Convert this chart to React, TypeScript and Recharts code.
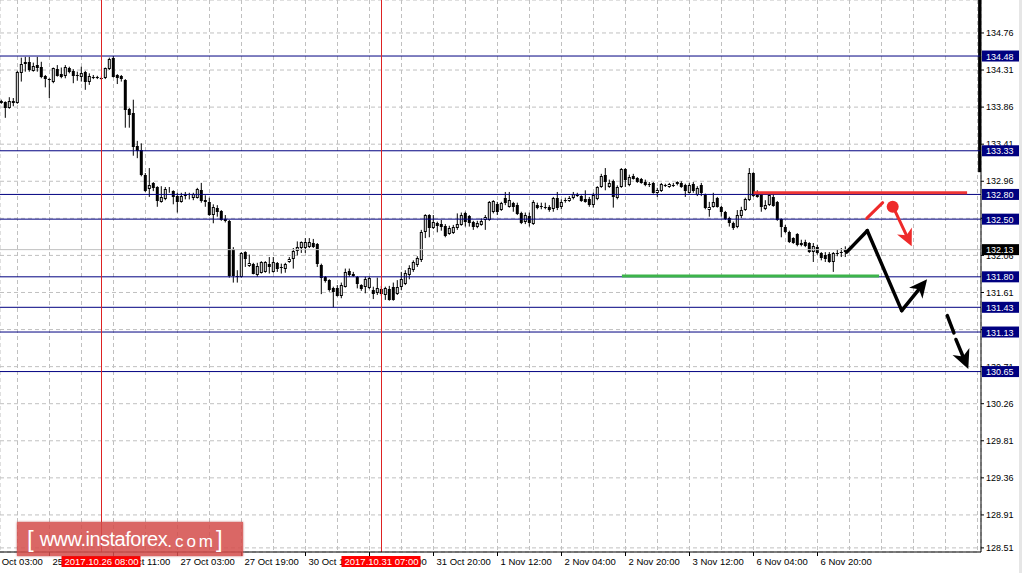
import {
  ComposedChart, Bar, XAxis, YAxis, CartesianGrid,
  ReferenceLine, ReferenceArea, ReferenceDot,
} from 'recharts'

const FONT = '"Liberation Sans", Arial, sans-serif'

// H1 candles, [open, high, low, close]
const CANDLES: [number, number, number, number][] = [
  [133.93, 133.95, 133.90, 133.91], [133.92, 133.93, 133.73, 133.85], [133.85, 133.98, 133.84, 133.93], [133.93, 133.97, 133.87, 133.91],
  [133.91, 134.30, 133.90, 134.29], [134.27, 134.46, 134.17, 134.38], [134.41, 134.47, 134.29, 134.38], [134.41, 134.47, 134.29, 134.31],
  [134.30, 134.40, 134.29, 134.36], [134.37, 134.47, 134.29, 134.33], [134.35, 134.41, 134.21, 134.23], [134.24, 134.25, 134.10, 134.20],
  [134.20, 134.21, 133.97, 134.19], [134.17, 134.34, 134.15, 134.33], [134.32, 134.37, 134.23, 134.24], [134.26, 134.34, 134.21, 134.23],
  [134.24, 134.37, 134.21, 134.35], [134.33, 134.35, 134.27, 134.29], [134.30, 134.32, 134.15, 134.24], [134.25, 134.29, 134.18, 134.24],
  [134.23, 134.35, 134.17, 134.27], [134.29, 134.30, 134.07, 134.17], [134.17, 134.27, 134.13, 134.24], [134.23, 134.25, 134.20, 134.22],
  [134.23, 134.24, 134.20, 134.21], [134.21, 134.23, 134.19, 134.20], [134.21, 134.34, 134.20, 134.33], [134.32, 134.46, 134.31, 134.44],
  [134.46, 134.48, 134.22, 134.23], [134.25, 134.26, 134.14, 134.21], [134.24, 134.25, 134.17, 134.20], [134.19, 134.20, 133.61, 133.83],
  [133.84, 133.85, 133.61, 133.76], [133.79, 133.95, 133.27, 133.38], [133.39, 133.45, 133.24, 133.33], [133.34, 133.42, 133.02, 133.04],
  [133.04, 133.06, 132.83, 132.84], [132.87, 133.12, 132.77, 132.91], [132.94, 132.95, 132.84, 132.88], [132.89, 132.90, 132.65, 132.72],
  [132.71, 132.90, 132.70, 132.77], [132.74, 132.89, 132.73, 132.87], [132.85, 132.89, 132.82, 132.86], [132.84, 132.85, 132.68, 132.77],
  [132.78, 132.82, 132.58, 132.71], [132.71, 132.82, 132.70, 132.78], [132.79, 132.83, 132.74, 132.78], [132.79, 132.82, 132.74, 132.80],
  [132.76, 132.82, 132.73, 132.81], [132.76, 132.88, 132.75, 132.87], [132.85, 132.94, 132.70, 132.72], [132.73, 132.79, 132.65, 132.71],
  [132.71, 132.76, 132.54, 132.55], [132.55, 132.68, 132.45, 132.65], [132.64, 132.67, 132.53, 132.59], [132.60, 132.61, 132.48, 132.49],
  [132.50, 132.55, 132.46, 132.48], [132.48, 132.49, 131.79, 131.81], [132.14, 132.16, 131.73, 131.81], [131.81, 131.88, 131.73, 131.80],
  [131.80, 132.10, 131.79, 132.09], [132.10, 132.11, 131.92, 132.02], [131.93, 132.07, 131.92, 131.97], [131.96, 131.97, 131.83, 131.84],
  [131.82, 131.97, 131.80, 131.93], [131.85, 131.99, 131.84, 131.98], [131.86, 131.99, 131.85, 131.98], [131.96, 132.04, 131.84, 131.92],
  [131.86, 132.04, 131.85, 131.98], [131.97, 131.98, 131.86, 131.89], [131.92, 131.96, 131.84, 131.91], [131.90, 131.97, 131.85, 131.96],
  [131.98, 132.04, 131.97, 132.02], [132.02, 132.15, 131.90, 132.11], [132.11, 132.23, 132.06, 132.16], [132.15, 132.23, 132.09, 132.22],
  [132.15, 132.27, 132.09, 132.22], [132.16, 132.27, 132.15, 132.22], [132.21, 132.26, 132.15, 132.16], [132.20, 132.21, 131.92, 131.96],
  [131.94, 131.96, 131.59, 131.79], [131.80, 131.81, 131.73, 131.75], [131.76, 131.77, 131.62, 131.64], [131.66, 131.68, 131.43, 131.62],
  [131.66, 131.70, 131.56, 131.57], [131.57, 131.73, 131.54, 131.70], [131.68, 131.90, 131.67, 131.86], [131.87, 131.90, 131.80, 131.82],
  [131.83, 131.86, 131.80, 131.81], [131.80, 131.81, 131.66, 131.71], [131.70, 131.71, 131.63, 131.65], [131.68, 131.80, 131.60, 131.77],
  [131.66, 131.80, 131.65, 131.79], [131.64, 131.68, 131.53, 131.59], [131.60, 131.79, 131.58, 131.66], [131.65, 131.69, 131.57, 131.59],
  [131.58, 131.68, 131.52, 131.66], [131.65, 131.69, 131.51, 131.52], [131.68, 131.73, 131.51, 131.52], [131.59, 131.76, 131.58, 131.68],
  [131.68, 131.86, 131.64, 131.77], [131.71, 131.88, 131.70, 131.85], [131.82, 131.94, 131.77, 131.91], [131.88, 132.00, 131.86, 131.98],
  [131.94, 132.05, 131.92, 132.03], [132.00, 132.37, 131.98, 132.34], [132.34, 132.56, 132.27, 132.55], [132.55, 132.56, 132.28, 132.39],
  [132.39, 132.55, 132.38, 132.47], [132.45, 132.47, 132.34, 132.42], [132.44, 132.49, 132.36, 132.40], [132.42, 132.44, 132.28, 132.30],
  [132.32, 132.42, 132.31, 132.39], [132.33, 132.43, 132.32, 132.41], [132.39, 132.57, 132.37, 132.44], [132.43, 132.58, 132.42, 132.55],
  [132.58, 132.59, 132.41, 132.47], [132.54, 132.55, 132.41, 132.45], [132.47, 132.48, 132.37, 132.41], [132.41, 132.48, 132.39, 132.45],
  [132.43, 132.51, 132.42, 132.48], [132.49, 132.55, 132.37, 132.53], [132.49, 132.72, 132.48, 132.71], [132.59, 132.73, 132.57, 132.72],
  [132.68, 132.71, 132.55, 132.59], [132.61, 132.71, 132.60, 132.70], [132.76, 132.83, 132.67, 132.70], [132.65, 132.83, 132.64, 132.73],
  [132.70, 132.71, 132.59, 132.65], [132.67, 132.70, 132.55, 132.56], [132.58, 132.59, 132.44, 132.45], [132.47, 132.58, 132.44, 132.55],
  [132.54, 132.58, 132.41, 132.45], [132.44, 132.73, 132.43, 132.71], [132.67, 132.70, 132.62, 132.64], [132.66, 132.70, 132.62, 132.65],
  [132.65, 132.70, 132.62, 132.64], [132.65, 132.67, 132.59, 132.61], [132.62, 132.77, 132.59, 132.76], [132.76, 132.83, 132.61, 132.64],
  [132.65, 132.74, 132.62, 132.71], [132.73, 132.76, 132.70, 132.72], [132.72, 132.78, 132.71, 132.76], [132.76, 132.83, 132.74, 132.81],
  [132.79, 132.82, 132.77, 132.78], [132.78, 132.79, 132.71, 132.72], [132.74, 132.85, 132.70, 132.71], [132.74, 132.77, 132.65, 132.67],
  [132.67, 132.82, 132.64, 132.79], [132.74, 132.90, 132.73, 132.89], [132.89, 133.05, 132.88, 133.02], [133.04, 133.12, 132.85, 132.95],
  [132.89, 132.98, 132.88, 132.94], [132.96, 132.98, 132.64, 132.77], [132.76, 132.91, 132.74, 132.89], [132.89, 133.12, 132.88, 133.11],
  [133.11, 133.12, 132.89, 132.98], [132.92, 133.04, 132.90, 133.01], [133.02, 133.05, 132.98, 132.99], [133.00, 133.01, 132.94, 132.95],
  [132.99, 133.00, 132.93, 132.94], [132.95, 132.98, 132.90, 132.91], [132.93, 132.95, 132.89, 132.91], [132.94, 132.95, 132.81, 132.82],
  [132.82, 132.88, 132.77, 132.85], [132.84, 132.94, 132.83, 132.93], [132.91, 132.93, 132.89, 132.91], [132.89, 132.94, 132.88, 132.93],
  [132.91, 132.94, 132.89, 132.92], [132.95, 132.96, 132.91, 132.93], [132.94, 132.96, 132.88, 132.89], [132.91, 132.93, 132.77, 132.84],
  [132.82, 132.94, 132.81, 132.91], [132.93, 132.95, 132.82, 132.84], [132.79, 132.90, 132.78, 132.88], [132.91, 132.94, 132.78, 132.82],
  [132.79, 132.81, 132.62, 132.64], [132.61, 132.71, 132.53, 132.65], [132.65, 132.82, 132.64, 132.71], [132.76, 132.77, 132.64, 132.65],
  [132.65, 132.66, 132.53, 132.59], [132.59, 132.60, 132.49, 132.50], [132.51, 132.53, 132.41, 132.45], [132.45, 132.47, 132.37, 132.39],
  [132.41, 132.61, 132.39, 132.55], [132.54, 132.65, 132.51, 132.61], [132.61, 132.76, 132.60, 132.75], [132.73, 133.12, 132.72, 133.06],
  [133.06, 133.07, 132.77, 132.78], [132.82, 132.85, 132.76, 132.77], [132.82, 132.83, 132.59, 132.65], [132.62, 132.73, 132.61, 132.67],
  [132.67, 132.82, 132.66, 132.79], [132.77, 132.82, 132.65, 132.66], [132.71, 132.72, 132.48, 132.49], [132.50, 132.51, 132.28, 132.41],
  [132.41, 132.43, 132.33, 132.34], [132.34, 132.36, 132.21, 132.22], [132.27, 132.28, 132.20, 132.21], [132.32, 132.33, 132.17, 132.19],
  [132.19, 132.25, 132.17, 132.21], [132.22, 132.25, 132.16, 132.17], [132.21, 132.22, 132.09, 132.10], [132.10, 132.21, 131.98, 132.17],
  [132.16, 132.19, 132.07, 132.09], [132.09, 132.10, 132.00, 132.03], [132.07, 132.10, 131.98, 132.02], [132.08, 132.10, 131.97, 131.98],
  [131.98, 132.10, 131.86, 132.09], [132.09, 132.13, 132.05, 132.08], [132.10, 132.15, 132.04, 132.10], [132.10, 132.17, 132.04, 132.13],
]

const PRICE_TICKS = [134.76, 134.31, 133.86, 133.41, 132.96, 132.51, 132.06, 131.61, 131.16, 130.71, 130.26, 129.81, 129.36, 128.91, 128.51]
const LEVELS = [134.48, 133.33, 132.80, 132.50, 131.80, 131.43, 131.13, 130.65]
const LAST_PRICE = 132.13

// time labels every 16 bars, first one sits at bar -4
const FIRST_LABEL_BAR = -4
const TIME_LABELS = [
  '25 Oct 03:00', '25 Oct 19:00', '26 Oct 11:00', '27 Oct 03:00', '27 Oct 19:00', '30 Oct 11:00', '31 Oct 03:00',
  '31 Oct 20:00', '1 Nov 12:00', '2 Nov 04:00', '2 Nov 20:00', '3 Nov 12:00', '6 Nov 04:00', '6 Nov 20:00',
]
const MARKED_BARS = [25, 95]
const MARKED_TIMES = ['2017.10.26 08:00', '2017.10.31 07:00']

// forecast drawing (bar index, price)
const RESISTANCE = [{ x: 188, y: 132.82 }, { x: 241.4, y: 132.82 }]
const SUPPORT = [{ x: 155.1, y: 131.81 }, { x: 219.4, y: 131.81 }]
const MAIN_PATH = [{ x: 211.3, y: 132.10 }, { x: 216.45, y: 132.36 }, { x: 225.05, y: 131.39 }, { x: 231.4, y: 131.77 }]
const SELL_TICK = [{ x: 216.3, y: 132.51 }, { x: 220.3, y: 132.70 }]
const SELL_DOT = { x: 222.8, y: 132.65 }
const SELL_ARROW = [{ x: 222.9, y: 132.65 }, { x: 227.55, y: 132.17 }]
const BREAK_DASH = [{ x: 236.45, y: 131.33 }, { x: 238.1, y: 131.12 }]
const BREAK_ARROW = [{ x: 238.6, y: 131.04 }, { x: 241.7, y: 130.68 }]

const W = 1022
const H = 573
const BAR_PX = 4
const X_DOMAIN: [number, number] = [-0.375, 244.875]
const Y_DOMAIN: [number, number] = [128.46, 135.16]
const GRID_BARS = Array.from({ length: 31 }, (_, i) => 4 + i * 8)

const ROWS = CANDLES.map(([o, h, l, c], i) => ({ bar: i, o, h, l, c }))

// eslint-disable-next-line @typescript-eslint/no-explicit-any
function renderCandle(p: any) {
  const { x, y, width, height, payload } = p
  if (!payload || !(height > 0)) return <g />
  const { o, h, l, c } = payload
  const cx = x + width / 2
  const k = height / (h - l)
  const py = (v: number) => y + (h - v) * k
  const top = Math.round(py(Math.max(o, c)))
  const bot = Math.round(py(Math.min(o, c)))
  let body
  if (bot - top < 1) {
    body = <line x1={cx - 1.5} x2={cx + 1.5} y1={top + 0.5} y2={top + 0.5} stroke="#000" />
  } else if (c > o) {
    body = <rect x={cx - 1} y={top + 0.5} width={2} height={Math.max(bot - top - 1, 0)} fill="#fff" stroke="#000" strokeWidth={1} />
  } else {
    body = <rect x={cx - 1.5} y={top} width={3} height={bot - top} fill="#000" />
  }
  return (
    <g>
      <line x1={cx} x2={cx} y1={y} y2={y + height} stroke="#000" strokeWidth={1} />
      {body}
    </g>
  )
}

// eslint-disable-next-line @typescript-eslint/no-explicit-any
function TimeTick({ x, y, payload }: any) {
  const bar = payload.value
  const items: { x: number; text: string }[] = []
  const idx = (bar - FIRST_LABEL_BAR) / 16
  if (Number.isInteger(idx) && TIME_LABELS[idx]) items.push({ x, text: TIME_LABELS[idx] })
  if (bar === FIRST_LABEL_BAR + 8) items.push({ x: x - 8 * BAR_PX, text: TIME_LABELS[0] })
  return (
    <g>
      {items.map((it) => (
        <g key={it.text}>
          <line x1={it.x} x2={it.x} y1={y - 4} y2={y} stroke="#000" />
          <text x={it.x + 3} y={y + 9} fontSize={9.5} fontFamily={FONT} fill="#000">{it.text}</text>
        </g>
      ))}
    </g>
  )
}

// drawn by a second, mirrored x axis so the boxes sit above the time labels
// eslint-disable-next-line @typescript-eslint/no-explicit-any
function MarkedTimeTick({ x, y, payload }: any) {
  const i = MARKED_BARS.indexOf(payload.value)
  if (i < 0) return <g />
  return (
    <g>
      <rect x={x - 40} y={y + 4} width={79} height={11} fill="#ff0000" />
      <text x={x} y={y + 13} textAnchor="middle" fontSize={9.5} fontFamily={FONT} fill="#fff">{MARKED_TIMES[i]}</text>
    </g>
  )
}

// drawn by a second, mirrored y axis so the boxes sit above the price labels
// eslint-disable-next-line @typescript-eslint/no-explicit-any
function PriceBoxTick({ x, y, payload }: any) {
  const v = payload.value as number
  const bg = v === LAST_PRICE ? '#000' : '#000080'
  return (
    <g>
      <rect x={x + 1} y={y - 5.5} width={37} height={11} fill={bg} />
      <text x={x + 5} y={y + 3.5} fontSize={9} fontFamily={FONT} fill="#fff">{v.toFixed(2)}</text>
    </g>
  )
}

const arrowShape = (color: string, w: number, head: number) =>
  // eslint-disable-next-line @typescript-eslint/no-explicit-any
  (p: any) => {
    const { x1, y1, x2, y2 } = p
    if (!head) {
      return <line x1={x1} y1={y1} x2={x2} y2={y2} stroke={color} strokeWidth={w} strokeLinecap="round" />
    }
    const len = Math.hypot(x2 - x1, y2 - y1) || 1
    const ux = (x2 - x1) / len
    const uy = (y2 - y1) / len
    const nx = -uy
    const ny = ux
    const bx = x2 - ux * head
    const by = y2 - uy * head
    const mx = x2 - ux * head * 0.72
    const my = y2 - uy * head * 0.72
    const hw = head * 0.48
    return (
      <g>
        <line x1={x1} y1={y1} x2={mx} y2={my} stroke={color} strokeWidth={w} strokeLinecap="round" />
        <polygon
          points={`${x2},${y2} ${bx + nx * hw},${by + ny * hw} ${mx},${my} ${bx - nx * hw},${by - ny * hw}`}
          fill={color}
        />
      </g>
    )
  }

export default function App() {
  const mainSegs = MAIN_PATH.slice(1).map((pt, i) => [MAIN_PATH[i], pt])
  return (
    <div style={{ position: 'absolute', left: 0, top: 0, width: W, height: H, background: '#fff', overflow: 'hidden' }}>
      <ComposedChart width={W} height={H} data={ROWS} margin={{ top: 0, right: 0, bottom: 0, left: 0 }}>
        <CartesianGrid stroke="#c0c0c0" strokeDasharray="4 3" />
        <XAxis
          dataKey="bar" type="number" domain={X_DOMAIN} allowDataOverflow
          ticks={GRID_BARS} interval={0} height={21}
          tickLine={false} tickSize={4} tickMargin={0}
          axisLine={{ stroke: '#000' }} tick={<TimeTick />}
        />
        <XAxis
          xAxisId="marks" orientation="bottom" mirror
          dataKey="bar" type="number" domain={X_DOMAIN} allowDataOverflow
          ticks={MARKED_BARS} interval={0} height={21}
          tickLine={false} tickSize={0} tickMargin={0}
          axisLine={false} tick={<MarkedTimeTick />}
        />
        <YAxis
          orientation="right" type="number" domain={Y_DOMAIN} allowDataOverflow
          ticks={PRICE_TICKS} interval={0} width={41}
          tickSize={3} tickMargin={2}
          tickLine={{ stroke: '#000' }} axisLine={{ stroke: '#000' }}
          tick={{ fontSize: 9, fill: '#000', fontFamily: FONT }}
          tickFormatter={(v: number) => v.toFixed(2)}
        />
        <YAxis
          yAxisId="boxes" orientation="right" mirror
          type="number" domain={Y_DOMAIN} allowDataOverflow
          ticks={[LAST_PRICE, ...LEVELS]} interval={0}
          tickSize={0} tickMargin={0}
          tickLine={false} axisLine={false}
          tick={<PriceBoxTick />}
        />
        <ReferenceLine y={LAST_PRICE} stroke="#c0c0c0" />
        {LEVELS.map((lv) => (
          <ReferenceLine key={lv} y={lv} stroke="#000080" />
        ))}
        <ReferenceArea x1={244.15} x2={244.875} y1={133.07} y2={135.16} fill="#000" fillOpacity={1} stroke="none" />
        <Bar dataKey={(d: { l: number; h: number }) => [d.l, d.h]} barSize={4} shape={renderCandle} isAnimationActive={false} />
        {MARKED_BARS.map((b) => (
          <ReferenceLine key={b} x={b} stroke="#dd2222" />
        ))}
        <ReferenceLine segment={RESISTANCE} stroke="#ee3535" strokeWidth={3} />
        <ReferenceLine segment={SUPPORT} stroke="#3cb44a" strokeWidth={3} />
        {mainSegs.map((seg, i) => (
          <ReferenceLine key={i} segment={seg} shape={arrowShape('#000', 3.5, i === mainSegs.length - 1 ? 18 : 0)} />
        ))}
        <ReferenceLine segment={SELL_TICK} shape={arrowShape('#ee2a2a', 3, 0)} />
        <ReferenceLine segment={SELL_ARROW} shape={arrowShape('#ee2a2a', 3, 17)} />
        <ReferenceDot x={SELL_DOT.x} y={SELL_DOT.y} r={6} fill="#ee2a2a" stroke="none" />
        <ReferenceLine segment={BREAK_DASH} shape={arrowShape('#000', 3.5, 0)} />
        <ReferenceLine segment={BREAK_ARROW} shape={arrowShape('#000', 3.5, 19)} />
      </ComposedChart>
      <div
        style={{
          position: 'absolute', left: 17, top: 522, width: 226, height: 34,
          background: 'rgba(212, 78, 76, 0.86)', boxShadow: '0 0 2px rgba(180,60,60,0.8)',
          color: '#fff', fontFamily: FONT, display: 'flex', alignItems: 'center',
          pointerEvents: 'none', boxSizing: 'border-box', paddingLeft: 10, lineHeight: 1,
        }}
      >
        <span style={{ fontSize: 24, fontWeight: 300, marginRight: 6 }}>[</span>
        <span style={{ fontSize: 20, letterSpacing: -0.5 }}>www.instaforex</span>
        <span style={{ fontSize: 17, letterSpacing: 3, marginTop: 4 }}>.com</span>
        <span style={{ fontSize: 24, fontWeight: 300, marginLeft: 0 }}>]</span>
      </div>
      <div style={{ position: 'absolute', left: 1019, top: 0, width: 3, height: H, background: '#e6e6e6' }} />
    </div>
  )
}
